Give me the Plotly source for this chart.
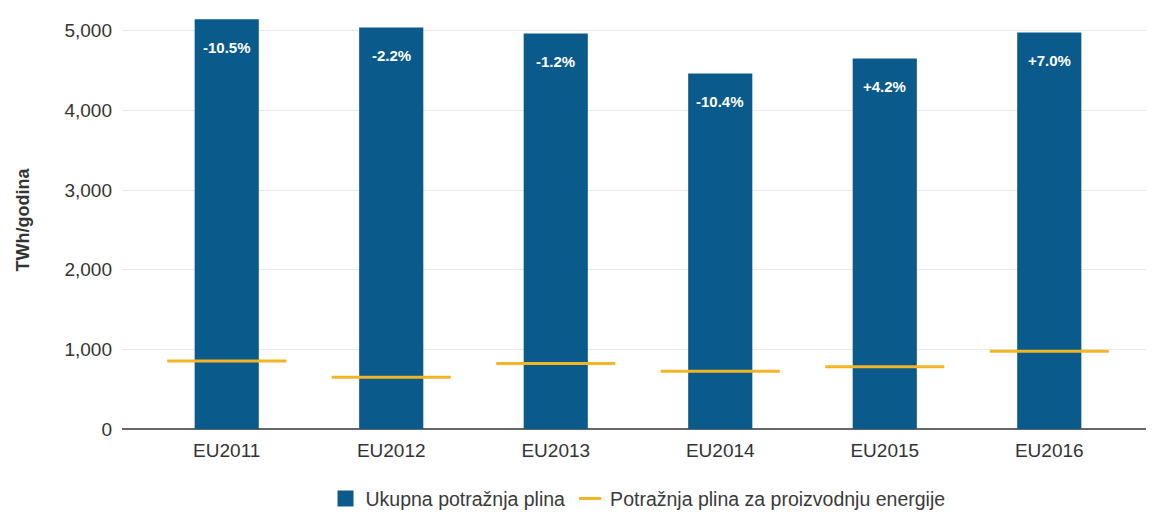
import plotly.graph_objects as go

categories = ["EU2011", "EU2012", "EU2013", "EU2014", "EU2015", "EU2016"]
total_demand = [5145, 5040, 4965, 4463, 4650, 4977]
power_demand = [853, 650, 823, 725, 782, 975]
change_labels = ["-10.5%", "-2.2%", "-1.2%", "-10.4%", "+4.2%", "+7.0%"]

BLUE = "#0a5a8b"
ORANGE = "#f2b526"
FONT = "Liberation Sans, Arial, sans-serif"

fig = go.Figure()
fig.add_trace(go.Bar(
    x=categories, y=total_demand, name="Ukupna potražnja plina",
    marker=dict(color=BLUE, line=dict(width=0)), showlegend=False,
    legendgroup="total",
))
# legend entry for the bars with a larger square swatch
fig.add_trace(go.Scatter(
    x=[None], y=[None], mode="markers", name="Ukupna potražnja plina",
    marker=dict(symbol="square", size=16, color=BLUE), legendgroup="total",
))
fig.add_trace(go.Scatter(
    x=categories, y=power_demand, mode="markers",
    name="Potražnja plina za proizvodnju energije",
    marker=dict(symbol="line-ew", size=85, color=ORANGE,
                line=dict(color=ORANGE, width=3)),
))

for c, v, t in zip(categories, total_demand, change_labels):
    fig.add_annotation(x=c, y=v, text="<b>%s</b>" % t, showarrow=False,
                       yshift=-28, yanchor="middle",
                       font=dict(family=FONT, size=15, color="white"))

fig.add_annotation(xref="paper", yref="paper", x=0, y=0.5, xshift=-100,
                   text="<b>TWh/godina</b>", textangle=-90, showarrow=False,
                   xanchor="center", yanchor="middle",
                   font=dict(family=FONT, size=18, color="#333333"))

fig.update_layout(
    width=1146, height=505,
    margin=dict(l=114, r=0, t=2, b=84, autoexpand=False),
    paper_bgcolor="white", plot_bgcolor="white",
    bargap=0.61,
    font=dict(family=FONT, color="#3a3a3a"),
    showlegend=True,
    legend=dict(orientation="h", xref="paper", yref="container",
                x=0.5, xanchor="center", y=0.028, yanchor="middle",
                font=dict(size=19.5, color="#3a3a3a"),
                itemwidth=30, traceorder="normal"),
)
fig.update_xaxes(
    type="category", showgrid=False, showline=False, zeroline=False,
    automargin=False,
    ticks="", ticklabelstandoff=8, tickfont=dict(size=19, color="#333333"),
)
fig.update_yaxes(
    range=[0, 5260], tickvals=[0, 1000, 2000, 3000, 4000, 5000],
    tickformat=",d", showgrid=True, gridcolor="#e9e9e9", gridwidth=1,
    zeroline=True, zerolinecolor="#666666", zerolinewidth=2,
    showline=False, ticks="", ticklabelstandoff=9, automargin=False,
    tickfont=dict(size=19, color="#333333"),
)

fig.write_html("out.html")
